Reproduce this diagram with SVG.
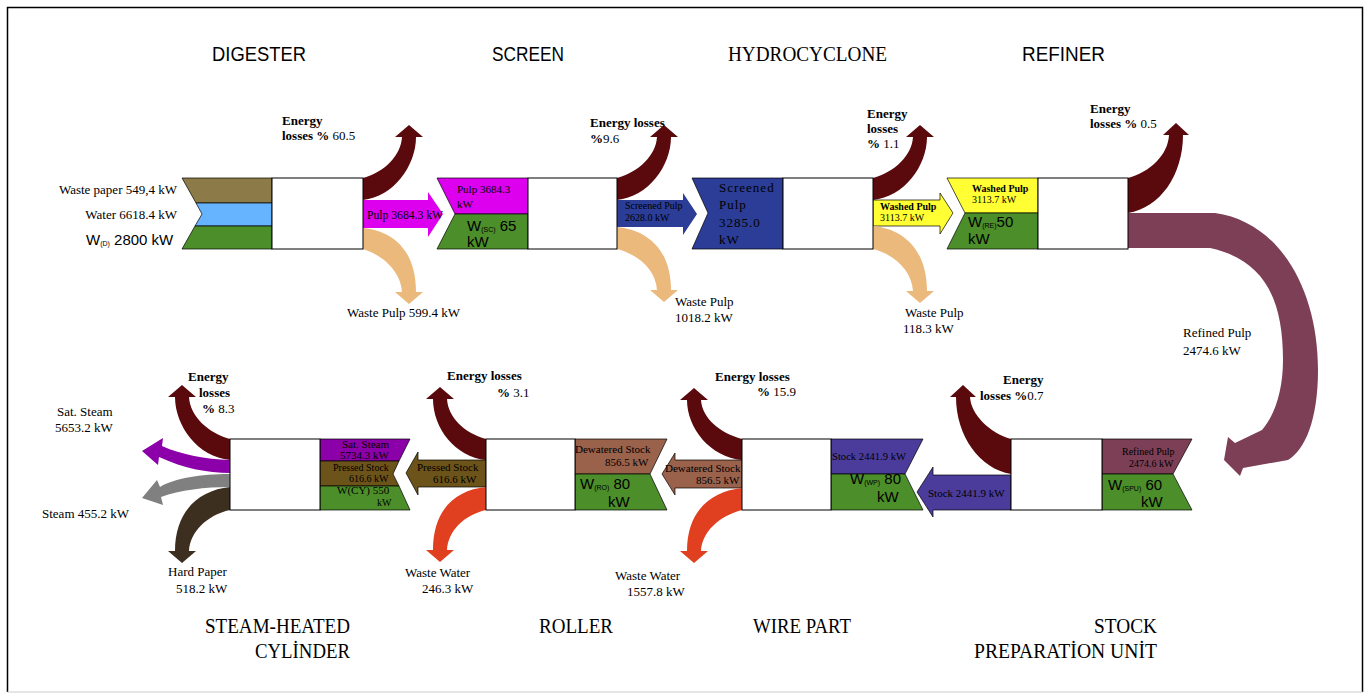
<svg xmlns="http://www.w3.org/2000/svg" width="1370" height="697" viewBox="0 0 1370 697">
<style>
.t{font-family:"Liberation Serif","Times New Roman",serif;font-size:13px;fill:#000}
.sm{font-size:10px}
.s11{font-size:11px}
.b{font-weight:bold}
.sn{font-family:"Liberation Sans",Arial,sans-serif;font-size:15px;fill:#000}
.sub{font-size:7px}
.ti{font-family:"Liberation Sans",Arial,sans-serif;font-size:20px;fill:#000}
.tis{font-family:"Liberation Serif","Times New Roman",serif;font-size:21px;fill:#000}
.box{fill:#fff;stroke:#000;stroke-width:1}
.ed{stroke:#000;stroke-width:0.7}
.olive{fill:#8c7b48}.water{fill:#66b3ff}.green{fill:#4c8e2a}.mag{fill:#dd00ee}
.navy{fill:#2b3d96}.yel{fill:#ffff33}.loss{fill:#5a0a0d}.tan{fill:#ebb97c}
.mauve{fill:#7d3f55}.violet{fill:#4b3c9c}.brown{fill:#9a614b}.pressed{fill:#6c5319}
.red{fill:#e0401f}.purple{fill:#8b00a8}.gray{fill:#808080}.dark{fill:#3d2f20}
</style>
<rect x="0" y="0" width="1370" height="697" fill="#fff"/>
<g id="frame">
<path d="M7.5,692 L7.5,7.5 L1362.5,7.5 L1362.5,692" fill="none" stroke="#000" stroke-width="1.5"/>
<line x1="7.5" y1="692" x2="1362.5" y2="692" stroke="#ccc" stroke-width="1"/>
</g>
<g id="titles">
<text class="ti" x="212" y="61" textLength="94" lengthAdjust="spacingAndGlyphs">DIGESTER</text>
<text class="ti" x="492" y="61" textLength="72" lengthAdjust="spacingAndGlyphs">SCREEN</text>
<text class="tis" x="728" y="61" textLength="159" lengthAdjust="spacingAndGlyphs">HYDROCYCLONE</text>
<text class="ti" x="1022" y="61" textLength="83" lengthAdjust="spacingAndGlyphs">REFINER</text>
<text class="tis" x="205" y="633" textLength="145" lengthAdjust="spacingAndGlyphs">STEAM-HEATED</text>
<text class="tis" x="255" y="658" textLength="95" lengthAdjust="spacingAndGlyphs">CYLİNDER</text>
<text class="tis" x="539" y="633" textLength="74" lengthAdjust="spacingAndGlyphs">ROLLER</text>
<text class="tis" x="753" y="633" textLength="98" lengthAdjust="spacingAndGlyphs">WIRE PART</text>
<text class="tis" x="1094" y="633" textLength="63" lengthAdjust="spacingAndGlyphs">STOCK</text>
<text class="tis" x="974" y="658" textLength="183" lengthAdjust="spacingAndGlyphs">PREPARATİON UNİT</text>
</g>

<g id="connectors">
<path class="loss" d="M363,178 C385,172 401,155 402,137 L395,137 L409,125 L423,137 L416,137 C416,166 393,197 363,200 Z"/>
<path class="loss" d="M617,178 C639,172 656,155 657,137 L650,137 L664,125 L678,137 L671,137 C671,166 648,197 617,200 Z"/>
<path class="loss" d="M873,178 C895,172 912,155 913,137 L906,137 L920,125 L934,137 L927,137 C927,166 904,197 873,200 Z"/>
<path class="loss" d="M1128,178 C1150,172 1168,155 1169,135 L1163,135 L1176,123 L1189,135 L1183,135 C1183,175 1160,208 1128,213 Z"/>
<path class="mag" d="M363,200 L428,200 L428,192 L443,214 L428,237 L428,228 L363,228 Z"/>
<path class="navy" d="M617,200 L683,200 L683,193 L697,214 L683,235 L683,227 L617,227 Z"/>
<path class="yel ed" d="M873,200 L940,200 L940,193 L953,213 L940,234 L940,226 L873,226 Z"/>
<path class="tan" d="M363,228 C393,231 416,250 416,292 L423,292 L409,304 L395,292 L402,292 C401,273 385,256 363,249 Z"/>
<path class="tan" d="M617,227 C647,230 671,249 671,290 L678,290 L664,302 L650,290 L657,290 C656,271 640,255 617,249 Z"/>
<path class="tan" d="M873,226 C903,229 927,249 927,291 L934,291 L920,303 L906,291 L913,291 C912,272 896,255 873,249 Z"/>
<path class="mauve" d="M1128,213 L1215,213 C1280,222 1318,290 1318,370 C1318,420 1305,450 1288,460 L1243,468 L1240,476 L1224,460 L1228,437 L1235,443 L1262,430 C1275,415 1283,390 1283,360 C1283,300 1265,260 1210,248 L1128,248 Z"/>
<path class="loss" d="M230,439 C208,433 190,416 189,397 L196,397 L182,385 L168,397 L175,397 C175,426 198,457 230,460 Z"/>
<path class="loss" d="M486,439 C464,433 448,417 447,399 L454,399 L440,387 L426,399 L433,399 C433,428 455,457 486,460 Z"/>
<path class="loss" d="M742,439 C720,433 702,418 701,400 L708,400 L694,388 L680,400 L687,400 C687,428 710,457 742,460 Z"/>
<path class="loss" d="M1011,439 C990,433 971,415 970,397 L976,397 L963,385 L950,397 L956,397 C956,436 980,469 1011,474 Z"/>
<path class="violet ed" d="M1011,475 L933,475 L933,467 L917,492 L933,517 L933,510 L1011,510 Z"/>
<path class="brown ed" d="M742,460 L675,460 L675,453 L662,474 L675,495 L675,488 L742,488 Z"/>
<path class="pressed ed" d="M486,460 L418,460 L418,452 L406,473 L418,495 L418,487 L486,487 Z"/>
<path class="red" d="M486,487 C456,490 433,509 433,550 L426,550 L440,562 L454,550 L447,550 C448,531 464,515 486,510 Z"/>
<path class="red" d="M742,488 C712,491 687,510 687,551 L680,551 L694,563 L708,551 L701,551 C702,532 719,516 742,510 Z"/>
<path class="purple" d="M230,460 C205,459 182,455 162,446 L163,438 L142,451 L158,465 L159,457 C183,468 207,473 230,473 Z"/>
<path class="gray" d="M230,474 C200,474 175,478 160,487 L157,480 L142,498 L163,505 L161,497 C180,490 205,487 230,487 Z"/>
<path class="dark" d="M230,487 C200,490 175,510 175,551 L168,551 L182,563 L196,551 L189,551 C190,532 207,515 230,510 Z"/>

<text class="t b" x="282" y="125">Energy</text>
<text class="t" x="282" y="140"><tspan class="b">losses %</tspan> 60.5</text>
<text class="t" x="367" y="219" textLength="76" lengthAdjust="spacingAndGlyphs">Pulp 3684.3 kW</text>
<text class="t" x="347" y="317">Waste Pulp 599.4 kW</text>
<text class="t b" x="590" y="127">Energy losses</text>
<text class="t" x="590" y="143"><tspan class="b">%</tspan>9.6</text>
<text class="t sm" x="625" y="209">Screened Pulp</text>
<text class="t sm" x="625" y="221">2628.0 kW</text>
<text class="t" x="675" y="306">Waste Pulp</text>
<text class="t" x="675" y="322">1018.2 kW</text>
<text class="t b" x="867" y="118">Energy</text>
<text class="t b" x="867" y="133">losses</text>
<text class="t" x="867" y="148"><tspan class="b">%</tspan> 1.1</text>
<text class="t sm b" x="880" y="210">Washed Pulp</text>
<text class="t sm" x="880" y="221">3113.7 kW</text>
<text class="t" x="905" y="317">Waste Pulp</text>
<text class="t" x="903" y="333">118.3 kW</text>
<text class="t b" x="1090" y="113">Energy</text>
<text class="t" x="1090" y="128"><tspan class="b">losses %</tspan> 0.5</text>
<text class="t" x="1183" y="337">Refined Pulp</text>
<text class="t" x="1183" y="355">2474.6 kW</text>
<text class="t b" x="1003" y="384">Energy</text>
<text class="t" x="980" y="400"><tspan class="b">losses %</tspan>0.7</text>
<text class="t s11" x="928" y="497">Stock 2441.9 kW</text>
<text class="t b" x="715" y="381">Energy losses</text>
<text class="t" x="757" y="396"><tspan class="b">%</tspan> 15.9</text>
<text class="t s11" x="665" y="472">Dewatered Stock</text>
<text class="t s11" x="696" y="484">856.5 kW</text>
<text class="t" x="615" y="580">Waste Water</text>
<text class="t" x="627" y="596">1557.8 kW</text>
<text class="t b" x="447" y="380">Energy losses</text>
<text class="t" x="497" y="397"><tspan class="b">%</tspan> 3.1</text>
<text class="t s11" x="417" y="471">Pressed Stock</text>
<text class="t s11" x="433" y="483">616.6 kW</text>
<text class="t" x="405" y="577">Waste Water</text>
<text class="t" x="422" y="593">246.3 kW</text>
<text class="t b" x="188" y="381">Energy</text>
<text class="t b" x="199" y="397">losses</text>
<text class="t" x="202" y="413"><tspan class="b">%</tspan> 8.3</text>
<text class="t" x="57" y="416">Sat. Steam</text>
<text class="t" x="55" y="432">5653.2 kW</text>
<text class="t" x="42" y="518">Steam 455.2 kW</text>
<text class="t" x="168" y="576">Hard Paper</text>
<text class="t" x="176" y="593">518.2 kW</text>
</g>

<g id="digester">
<path class="olive ed" d="M182,178 L272,178 L272,203 L196,203 Z"/>
<path class="water ed" d="M196,203 L272,203 L272,226 L195,226 L202,214 Z"/>
<path class="green ed" d="M195,226 L272,226 L272,249 L182,249 Z"/>
<rect class="box" x="272" y="178" width="91" height="71"/>
<text class="t" x="177" y="194" text-anchor="end">Waste paper 549,4 kW</text>
<text class="t" x="177" y="219" text-anchor="end">Water 6618.4 kW</text>
<text class="sn" x="86" y="245" font-size="14">W<tspan class="sub" dy="1">(D)</tspan><tspan dy="-1"> 2800 kW</tspan></text>
</g>

<g id="screen">
<path class="mag ed" d="M437,178 L528,178 L528,214 L455,214 Z"/>
<path class="green ed" d="M455,214 L528,214 L528,249 L437,249 Z"/>
<rect class="box" x="528" y="178" width="89" height="71"/>
<text class="t s11" x="457" y="193">Pulp 3684.3</text>
<text class="t s11" x="457" y="208">kW</text>
<text class="sn" x="467" y="231">W<tspan class="sub" dy="1">(SC)</tspan><tspan dy="-1"> 65</tspan></text>
<text class="sn" x="467" y="247">kW</text>
</g>

<g id="hydrocyclone">
<path class="navy ed" d="M692,178 L783,178 L783,249 L692,249 L708,213 Z"/>
<rect class="box" x="783" y="178" width="90" height="71"/>
<text class="t" x="719" y="192" font-size="16" letter-spacing="1" fill="#111">Screened</text>
<text class="t" x="719" y="209" font-size="16" letter-spacing="1" fill="#111">Pulp</text>
<text class="t" x="719" y="227" font-size="16" letter-spacing="1" fill="#111">3285.0</text>
<text class="t" x="719" y="244" font-size="16" letter-spacing="1" fill="#111">kW</text>
</g>

<g id="refiner">
<path class="yel ed" d="M947,178 L1038,178 L1038,213 L965,213 Z"/>
<path class="green ed" d="M965,213 L1038,213 L1038,249 L947,249 Z"/>
<rect class="box" x="1038" y="178" width="90" height="71"/>
<text class="t sm b" x="972" y="192">Washed Pulp</text>
<text class="t sm" x="972" y="203">3113.7 kW</text>
<text class="sn" x="968" y="227">W<tspan class="sub" dy="1">(RE)</tspan><tspan dy="-1">50</tspan></text>
<text class="sn" x="968" y="244">kW</text>
</g>

<g id="stock-preparation-unit">
<path class="mauve ed" d="M1102,439 L1192,439 L1173,474 L1102,474 Z"/>
<path class="green ed" d="M1102,474 L1173,474 L1192,510 L1102,510 Z"/>
<rect class="box" x="1011" y="439" width="91" height="71"/>
<text class="t sm" x="1122" y="455">Refined Pulp</text>
<text class="t sm" x="1129" y="467">2474.6 kW</text>
<text class="sn" x="1108" y="490">W<tspan class="sub" dy="1">(SPU)</tspan><tspan dy="-1"> 60</tspan></text>
<text class="sn" x="1141" y="507">kW</text>
</g>

<g id="wire-part">
<path class="violet ed" d="M831,439 L923,439 L905,474 L831,474 Z"/>
<path class="green ed" d="M831,474 L905,474 L923,510 L831,510 Z"/>
<rect class="box" x="742" y="439" width="89" height="71"/>
<text class="t s11" x="832" y="460" textLength="74" lengthAdjust="spacingAndGlyphs">Stock 2441.9 kW</text>
<text class="sn" x="850" y="484">W<tspan class="sub" dy="1">(WP)</tspan><tspan dy="-1"> 80</tspan></text>
<text class="sn" x="877" y="502">kW</text>
</g>

<g id="roller">
<path class="brown ed" d="M575,439 L667,439 L650,474 L575,474 Z"/>
<path class="green ed" d="M575,474 L650,474 L667,510 L575,510 Z"/>
<rect class="box" x="486" y="439" width="89" height="71"/>
<text class="t s11" x="575" y="453">Dewatered Stock</text>
<text class="t s11" x="605" y="466">856.5 kW</text>
<text class="sn" x="580" y="489">W<tspan class="sub" dy="1">(RO)</tspan><tspan dy="-1"> 80</tspan></text>
<text class="sn" x="608" y="507">kW</text>
</g>

<g id="steam-heated-cylinder">
<path class="purple ed" d="M320,439 L410,439 L399,461 L320,461 Z"/>
<path class="pressed ed" d="M320,461 L399,461 L393,474 L399,486 L320,486 Z"/>
<path class="green ed" d="M320,486 L399,486 L410,510 L320,510 Z"/>
<rect class="box" x="230" y="439" width="90" height="71"/>
<text class="t s11" x="342" y="448">Sat. Steam</text>
<text class="t s11" x="340" y="459">5734.3 kW</text>
<text class="t sm" x="333" y="471">Pressed Stock</text>
<text class="t sm" x="349" y="482">616.6 kW</text>
<text class="t s11" x="337" y="494">W(CY) 550</text>
<text class="t sm" x="377" y="506">kW</text>
</g>
</svg>
